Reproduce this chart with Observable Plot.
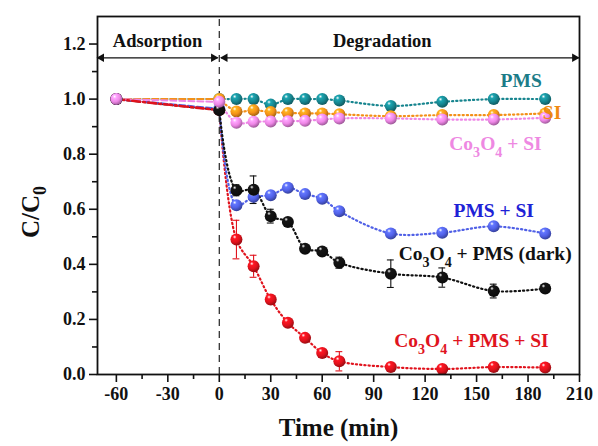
<!DOCTYPE html>
<html>
<head>
<meta charset="utf-8">
<script src="https://cdn.jsdelivr.net/npm/d3@7"></script>
<script src="https://cdn.jsdelivr.net/npm/@observablehq/plot@0.6"></script>
<style>
  html, body { margin: 0; padding: 0; background: #fff; }
  #chart svg, #chart svg text { font-family: "Liberation Serif", "Times New Roman", "DejaVu Serif", serif !important; }
</style>
</head>
<body>
<div id="chart"></div>
<script>
// ---- data ----
const time = [-60, 0, 10, 20, 30, 40, 50, 60, 70, 100, 130, 160, 190];
const pms      = [1.0, 1.0, 1.0, 1.0, 0.98, 1.0, 1.0, 1.0, 0.995, 0.975, 0.99, 1.0, 1.0];
const si       = [1.0, 1.0, 0.955, 0.96, 0.953, 0.95, 0.948, 0.948, 0.945, 0.938, 0.942, 0.942, 0.948];
const co3o4Si  = [1.0, 0.99, 0.914, 0.918, 0.919, 0.92, 0.921, 0.926, 0.93, 0.93, 0.926, 0.926, 0.932];
const pmsSi    = [1.0, 0.965, 0.615, 0.645, 0.651, 0.678, 0.655, 0.638, 0.593, 0.512, 0.515, 0.538, 0.512];
const dark     = [1.0, 0.96, 0.669, 0.671, 0.575, 0.554, 0.457, 0.447, 0.406, 0.366, 0.352, 0.303, 0.312];
const full     = [1.0, 0.96, 0.49, 0.393, 0.272, 0.188, 0.133, 0.078, 0.048, 0.027, 0.02, 0.027, 0.025];
const darkErr  = [0, 0.01, 0.02, 0.05, 0.025, 0.01, 0.01, 0.01, 0.02, 0.05, 0.035, 0.025, 0.01];
const fullErr  = [0, 0.01, 0.07, 0.04, 0.015, 0.01, 0.01, 0.015, 0.035, 0.01, 0.01, 0.01, 0.01];

const seriesNames  = ["PMS", "SI", "Co3O4 + PMS + SI", "PMS + SI", "Co3O4 + PMS (dark)", "Co3O4 + SI"];
const seriesValues = [pms, si, full, pmsSi, dark, co3o4Si];
const seriesErrors = [null, null, fullErr, null, darkErr, null];
const seriesColors = ["#17858f", "#f39019", "#e0121c", "#5060e6", "#111111", "#ee86e6"];
const labelColors  = ["#1b7c88", "#f08a10", "#e0141e", "#1e22d6", "#111111", "#ee88e2"];
const labelX       = [176, 194, 147, 160, 155, 161];
const labelY       = [1.065, 0.95, 0.121, 0.596, 0.439, 0.839];
const labelAnchor  = ["middle", "start", "middle", "middle", "middle", "middle"];
// drawing order of the adsorption (t <= 0) segments: bottom first
const adsOrder = [4, 3, 0, 1, 5, 2];

const xTicks = [-60, -30, 0, 30, 60, 90, 120, 150, 180, 210];
const xMinor = [-45, -15, 15, 45, 75, 105, 135, 165, 195];
const yTicks = [0, 0.2, 0.4, 0.6, 0.8, 1.0, 1.2];
const yMinor = [0.1, 0.3, 0.5, 0.7, 0.9, 1.1];

const phaseNames = ["Adsorption", "Degradation"];
const phaseX = [-36, 95];
const phaseY = 1.21;
const arrowY = 1.15;
const arrowX1 = [-71, 1];
const arrowX2 = [-1, 209.5];
const yTitlePos = 0.59;

// ---- tables ----
const rows = [];
seriesNames.forEach((name, i) => {
  time.forEach((t, j) => {
    rows.push({series: name, idx: i, t, v: seriesValues[i][j],
               err: seriesErrors[i] ? seriesErrors[i][j] : 0, color: seriesColors[i]});
  });
});
const gradIds = seriesColors.map((c, i) => "ball" + i);
const font = "Liberation Serif";

const marks = [];
// adsorption segments
adsOrder.forEach(i => {
  const seg = rows.filter(r => r.idx === i && r.t <= 0);
  const isRed = i === 2;
  marks.push(Plot.line(seg, {x: "t", y: "v", stroke: seriesColors[i],
    strokeWidth: isRed ? 2.6 : 2, strokeDasharray: isRed ? "8,3,2,3" : "6,3"}));
});
// degradation segments
seriesNames.forEach((name, i) => {
  const seg = rows.filter(r => r.idx === i && r.t >= 0);
  marks.push(Plot.line(seg, {x: "t", y: "v", stroke: seriesColors[i], strokeWidth: 2.2,
    strokeDasharray: "1.2,3", strokeLinecap: "round", curve: "catmull-rom"}));
});
// vertical divider
marks.push(Plot.ruleX([0], {y1: 0, y2: 1.3, stroke: "#222", strokeWidth: 1.2, strokeDasharray: "7,5"}));
// error bars
const errRows = rows.filter(r => r.err > 0);
marks.push(Plot.ruleX(errRows, {x: "t", y1: d => d.v - d.err, y2: d => d.v + d.err, stroke: "color", strokeWidth: 1.1}));
marks.push(Plot.ruleY(errRows, {y: d => d.v - d.err, x1: d => d.t - 2, x2: d => d.t + 2, stroke: "color", strokeWidth: 1.1}));
marks.push(Plot.ruleY(errRows, {y: d => d.v + d.err, x1: d => d.t - 2, x2: d => d.t + 2, stroke: "color", strokeWidth: 1.1}));
// balls
seriesNames.forEach((name, i) => {
  marks.push(Plot.dot(rows.filter(r => r.idx === i), {x: "t", y: "v", r: 6,
    fill: `url(#${gradIds[i]})`, stroke: "none"}));
});
// phase labels & arrows
marks.push(Plot.text(phaseNames, {x: (d, i) => phaseX[i], y: () => phaseY, text: d => d,
  fontSize: 18.5, fontWeight: "bold", fill: "#111", fontFamily: font}));
marks.push(Plot.link(phaseNames, {x1: (d, i) => arrowX1[i], x2: (d, i) => arrowX2[i],
  y1: () => arrowY, y2: () => arrowY, stroke: "#111", strokeWidth: 1.3}));
marks.push(Plot.dot(phaseNames, {x: (d, i) => arrowX1[i], y: () => arrowY, symbol: "triangle",
  r: 3.2, rotate: -90, dx: 4, fill: "#111", stroke: "none"}));
marks.push(Plot.dot(phaseNames, {x: (d, i) => arrowX2[i], y: () => arrowY, symbol: "triangle",
  r: 3.2, rotate: 90, dx: -4, fill: "#111", stroke: "none"}));
// series labels
marks.push(Plot.text(seriesNames, {x: (d, i) => labelX[i], y: (d, i) => labelY[i], text: d => d,
  fill: (d, i) => labelColors[i], textAnchor: (d, i) => labelAnchor[i],
  fontSize: 19.5, fontWeight: "bold", fontFamily: font}));
// axes
marks.push(Plot.axisX({ticks: xTicks, tickSize: 8, tickPadding: 5, tickFormat: d => String(d),
  label: null, fontSize: 18, fontWeight: "bold", fontFamily: font, strokeWidth: 1.6}));
marks.push(Plot.axisX({ticks: xMinor, tickSize: 5, tickFormat: () => "", label: null, strokeWidth: 1.6}));
marks.push(Plot.axisY({ticks: yTicks, tickSize: 8, tickPadding: 4, tickFormat: d3.format(".1f"),
  label: null, fontSize: 18, fontWeight: "bold", fontFamily: font, strokeWidth: 1.6}));
marks.push(Plot.axisY({ticks: yMinor, tickSize: 5, tickFormat: () => "", label: null, strokeWidth: 1.6}));
marks.push(Plot.frame({stroke: "#111", strokeWidth: 1.8}));
// axis titles
marks.push(Plot.text(["Time (min)"], {frameAnchor: "bottom", dy: 61, text: d => d,
  fontSize: 25, fontWeight: "bold", fill: "#111", fontFamily: font}));
marks.push(Plot.text(["C/C0"], {frameAnchor: "left", y: () => yTitlePos, dx: -67, rotate: -90,
  textAnchor: "middle", text: d => d, fontSize: 25, fontWeight: "bold", fill: "#111", fontFamily: font}));

const chart = Plot.plot({
  width: 598, height: 446,
  marginLeft: 97, marginRight: 19, marginTop: 16, marginBottom: 72,
  x: {domain: [-71, 210]},
  y: {domain: [0, 1.3]},
  style: {fontFamily: font, fontWeight: "bold", fontSize: "18px", background: "#fff", color: "#111"},
  marks
});

// gradients for glossy balls
const ns = "http://www.w3.org/2000/svg";
const defs = document.createElementNS(ns, "defs");
seriesColors.forEach((c, i) => {
  const g = document.createElementNS(ns, "radialGradient");
  g.setAttribute("id", gradIds[i]);
  g.setAttribute("cx", "0.38"); g.setAttribute("cy", "0.32"); g.setAttribute("r", "0.7");
  g.setAttribute("fx", "0.35"); g.setAttribute("fy", "0.28");
  const base = d3.color(c);
  const stops = [[0, "#ffffff"], [0.22, base.brighter(0.6).formatHex()], [0.6, c], [1, base.darker(1.2).formatHex()]];
  stops.forEach(([o, col]) => {
    const s = document.createElementNS(ns, "stop");
    s.setAttribute("offset", o); s.setAttribute("stop-color", col);
    g.appendChild(s);
  });
  defs.appendChild(g);
});
chart.insertBefore(defs, chart.firstChild);

// subscripts for chemical formulas and C/C0
chart.querySelectorAll("text").forEach(t => {
  const s = t.textContent;
  if (!/[A-Za-z]\d/.test(s)) return;
  const parts = s.split(/(?<=[A-Za-z])(\d)/);
  while (t.firstChild) t.removeChild(t.firstChild);
  let shifted = false;
  parts.forEach(p => {
    if (p === "") return;
    const ts = document.createElementNS(ns, "tspan");
    const isSub = /^\d$/.test(p);
    ts.textContent = p;
    if (isSub) {
      ts.setAttribute("font-size", "0.72em");
      ts.setAttribute("dy", shifted ? "0" : "7");
      shifted = true;
    } else if (shifted) {
      ts.setAttribute("dy", "-7");
      shifted = false;
    }
    t.appendChild(ts);
  });
});

document.getElementById("chart").appendChild(chart);
</script>
</body>
</html>
